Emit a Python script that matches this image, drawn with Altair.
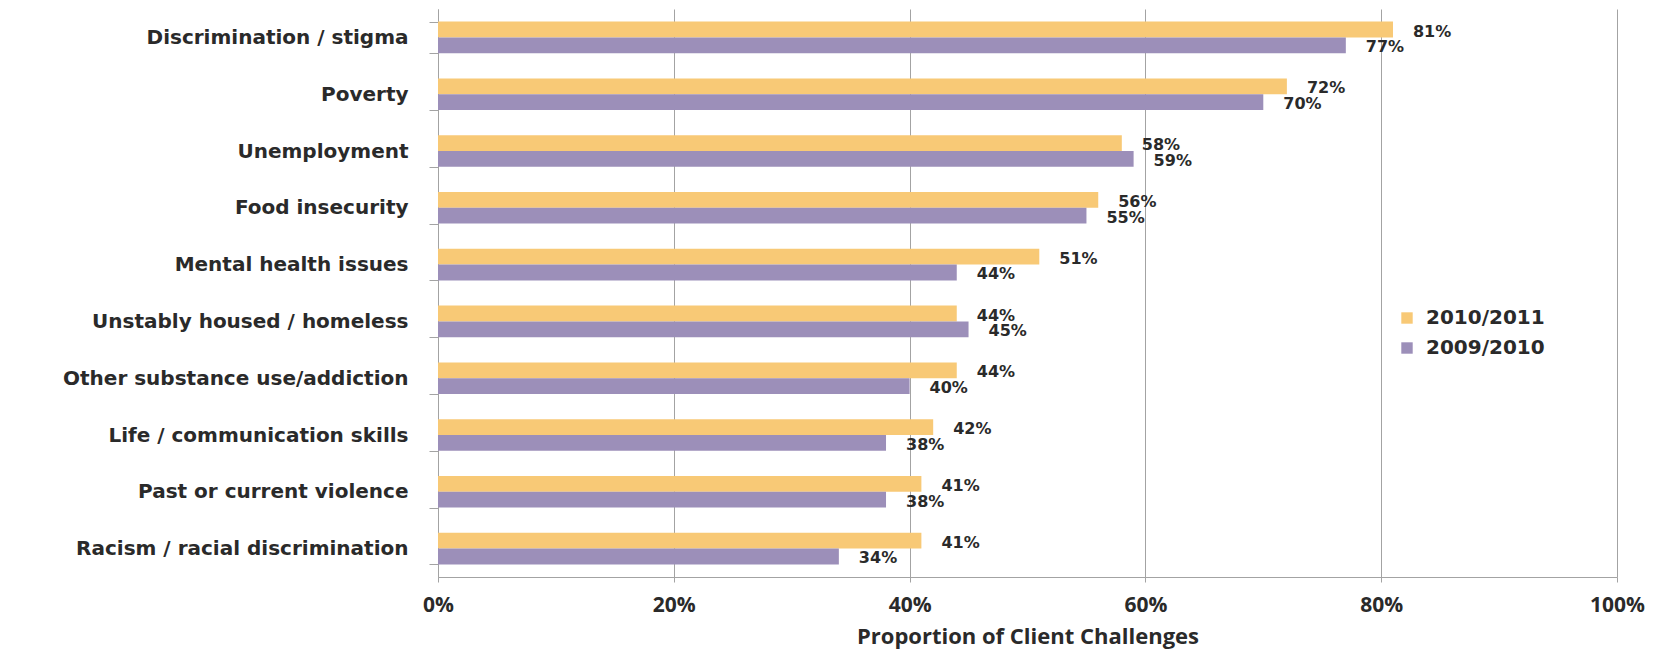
import altair as alt
import pandas as pd

categories = [
    "Discrimination / stigma",
    "Poverty",
    "Unemployment",
    "Food insecurity",
    "Mental health issues",
    "Unstably housed / homeless",
    "Other substance use/addiction",
    "Life / communication skills",
    "Past or current violence",
    "Racism / racial discrimination",
]
series = ["2010/2011", "2009/2010"]
values_2010_2011 = [81, 72, 58, 56, 51, 44, 44, 42, 41, 41]
values_2009_2010 = [77, 70, 59, 55, 44, 45, 40, 38, 38, 34]
x_ticks = [0, 20, 40, 60, 80, 100]
colors = ["#F8C976", "#9C8FB9"]

rows = []
for c, a, b in zip(categories, values_2010_2011, values_2009_2010):
    rows.append({"category": c, "series": series[0], "value": a})
    rows.append({"category": c, "series": series[1], "value": b})
df = pd.DataFrame(rows)

GRAY = "#A3A3A3"
TXT = "#2A2A2A"

x_enc = alt.X(
    "value:Q",
    scale=alt.Scale(domain=[0, 100]),
    axis=alt.Axis(
        values=x_ticks,
        labelExpr="datum.value + '%'",
        title="Proportion of Client Challenges",
        grid=True,
        gridColor=GRAY,
        gridWidth=1,
        domainColor=GRAY,
        tickColor=GRAY,
        tickSize=5,
        labelPadding=12,
        labelFlush=False,
        labelFont="Open Sans",
        labelFontWeight="bold",
        labelFontSize=21,
        labelColor=TXT,
        titleFont="Open Sans",
        titleFontWeight="bold",
        titleFontSize=22,
        titleColor=TXT,
        titlePadding=11,
    ),
)
y_enc = alt.Y(
    "category:N",
    sort=categories,
    scale=alt.Scale(domain=categories, paddingInner=0.444, paddingOuter=0.222),
    axis=alt.Axis(
        title=None,
        tickBand="extent",
        tickSize=9,
        labelPadding=21,
        labelFont="DejaVu Sans",
        labelFontWeight="bold",
        labelFontSize=20,
        labelColor=TXT,
        labelLimit=600,
        domainColor=GRAY,
        tickColor=GRAY,
    ),
)
yoff_enc = alt.YOffset(
    "series:N", sort=series, scale=alt.Scale(domain=series, paddingInner=0, paddingOuter=0)
)

base = alt.Chart(df).transform_calculate(label="datum.value + '%'")

bars = base.mark_bar().encode(
    x=x_enc,
    y=y_enc,
    yOffset=yoff_enc,
    color=alt.Color(
        "series:N",
        sort=series,
        scale=alt.Scale(domain=series, range=colors),
        legend=alt.Legend(
            title=None,
            orient="none",
            legendX=959,
            legendY=299,
            padding=0,
            symbolType="square",
            symbolSize=130,
            symbolStrokeWidth=0,
            labelFont="DejaVu Sans",
            labelFontWeight="bold",
            labelFontSize=20,
            labelColor=TXT,
            labelOffset=9,
            rowPadding=10,
        ),
    ),
)

labels = base.mark_text(
    align="left",
    baseline="middle",
    dx=20,
    dy=2,
    font="DejaVu Sans",
    fontWeight="bold",
    fontSize=16,
    color=TXT,
).encode(
    x=alt.X("value:Q"),
    y=alt.Y("category:N", sort=categories),
    yOffset=alt.YOffset("series:N", sort=series),
    text="label:N",
)

chart = (
    alt.layer(bars, labels)
    .properties(
        width=1179,
        height=568,
        autosize=alt.AutoSizeParams(type="none"),
        padding={"left": 430, "top": 1, "right": 30, "bottom": 75},
        background="white",
    )
    .configure_view(strokeWidth=0)
)

chart.save("out.html", embed_options={"renderer": "svg", "actions": False})
